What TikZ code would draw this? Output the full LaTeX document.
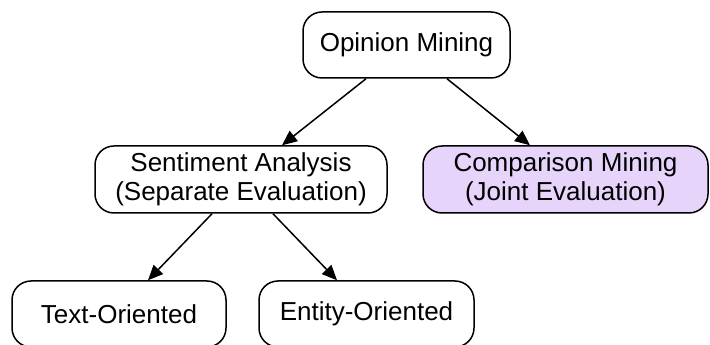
\documentclass[tikz,border=0pt]{standalone}
\usepackage{fontspec}
\setmainfont{Liberation Sans}
\usetikzlibrary{arrows.meta}
\definecolor{lavender}{HTML}{E6D4FA}
\tikzset{
  box/.style={draw=black, line width=1.5pt, rounded corners=19pt, rectangle,
    inner sep=0pt, align=center, font=\fontsize{26}{29}\selectfont},
  edge/.style={line width=1.5pt, -{Triangle[length=15pt,width=13pt]}}
}
\begin{document}
\begin{tikzpicture}[x=1pt,y=1pt]
\useasboundingbox (0,0) rectangle (710,345);
\node[box, minimum width=207pt, minimum height=66pt] (op) at (406.5,300) {Opinion Mining};
\node[box, minimum width=292pt, minimum height=67pt] (sa) at (241,165.5) {Sentiment Analysis\\(Separate Evaluation)};
\node[box, fill=lavender, minimum width=285pt, minimum height=67pt] (cm) at (565.5,165.5) {Comparison Mining\\(Joint Evaluation)};
\node[box, minimum width=214pt, minimum height=66pt] (to) at (119,31) {Text-Oriented};
\node[box, minimum width=215pt, minimum height=66pt] (en) at (366.5,31) {Entity-Oriented};
\draw[edge] ([xshift=-40.5pt]op.south) -- ([xshift=41pt]sa.north);
\draw[edge] ([xshift=40.5pt]op.south) -- ([xshift=-35.5pt]cm.north);
\draw[edge] ([xshift=-29pt]sa.south) -- ([xshift=29pt]to.north);
\draw[edge] ([xshift=32pt]sa.south) -- ([xshift=-29.5pt]en.north);
\end{tikzpicture}
\end{document}
